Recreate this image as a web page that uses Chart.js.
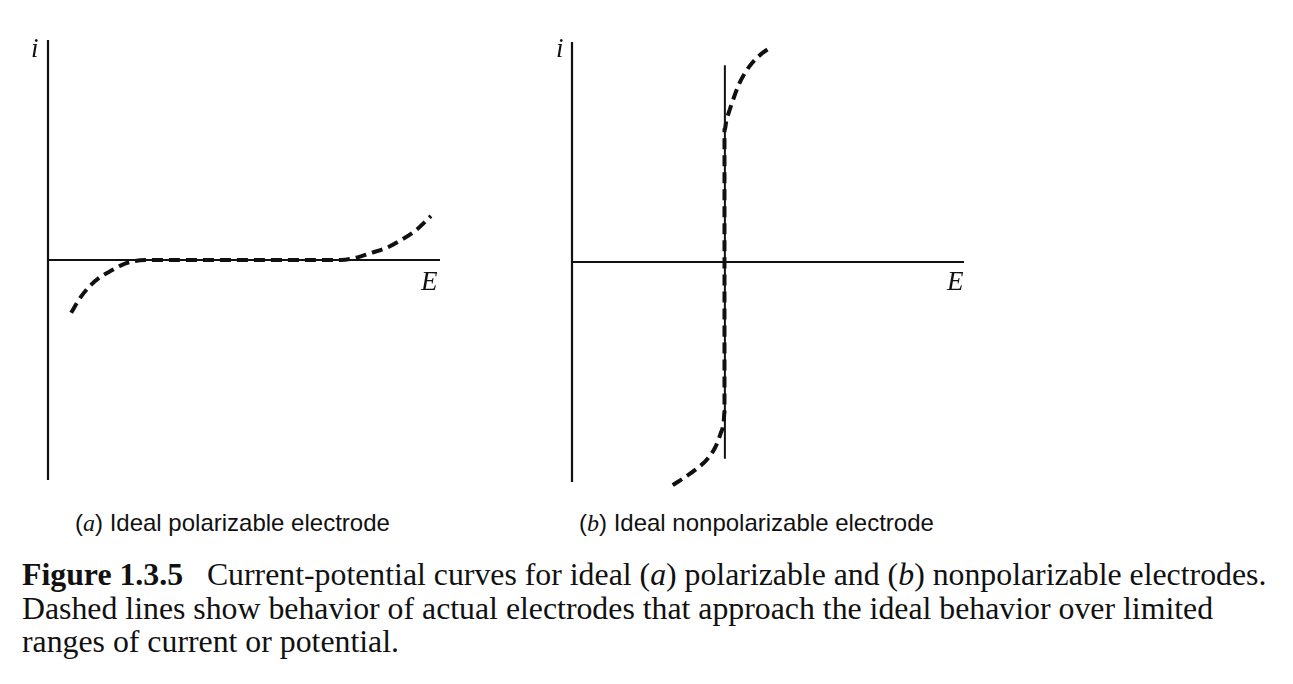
<!DOCTYPE html>
<html lang="en">
<head>
    <meta charset="UTF-8">
    <title>Figure 1.3.5</title>
    <script src="https://cdn.jsdelivr.net/npm/chart.js@4.4.0/dist/chart.umd.min.js"></script>
    <style>
        body {
            margin: 0;
            background: #fff;
            width: 1293px;
            height: 684px;
            position: relative;
            overflow: hidden;
            font-family: "Liberation Serif", "Times New Roman", serif;
            color: #111;
        }
        .panel {
            position: absolute;
            width: 412px;
            height: 460px;
        }
        .axis-label {
            position: absolute;
            font-style: italic;
            font-size: 27px;
            line-height: 1;
        }
        .sub {
            position: absolute;
            top: 510px;
            font-family: "Liberation Sans", Arial, sans-serif;
            font-size: 24px;
            line-height: 26px;
            white-space: nowrap;
        }
        .sub i {
            font-family: "Liberation Serif", serif;
        }
        .caption {
            position: absolute;
            left: 22px;
            top: 558px;
            font-size: 31.8px;
            line-height: 33.5px;
            white-space: nowrap;
        }
    </style>
</head>
<body>
    <div class="panel" style="left:38px; top:30px;"><canvas id="chartA"></canvas></div>
    <div class="panel" style="left:562px; top:32px;"><canvas id="chartB"></canvas></div>

    <span class="axis-label" style="left:31px; top:35px;">i</span>
    <span class="axis-label" style="left:421px; top:268px;">E</span>
    <span class="axis-label" style="left:556px; top:35px;">i</span>
    <span class="axis-label" style="left:947px; top:268px;">E</span>

    <div class="sub" style="left:75px;">(<i>a</i>) Ideal polarizable electrode</div>
    <div class="sub" style="left:579px;">(<i>b</i>) Ideal nonpolarizable electrode</div>

    <div class="caption">
        <b>Figure 1.3.5</b>&nbsp;&nbsp; Current-potential curves for ideal (<i>a</i>) polarizable and (<i>b</i>) nonpolarizable electrodes.<br>
        Dashed lines show behavior of actual electrodes that approach the ideal behavior over limited<br>
        ranges of current or potential.
    </div>

    <script>
        // axis frame (E from 0 to 10, i from -5 to 5)
        const axisV = [{x: 0, y: -5}, {x: 0, y: 5}];
        const axisH = [{x: 0, y: 0}, {x: 10, y: 0}];

        const realA_E = [0.59, 0.82, 1.07, 1.33, 1.64, 1.89, 2.17, 2.48, 5.0, 7.47, 7.85, 8.24, 8.62, 9.0, 9.39, 9.77];
        const realA_i = [-1.2, -0.86, -0.59, -0.39, -0.23, -0.11, -0.03, 0, 0, 0, 0.05, 0.16, 0.27, 0.45, 0.68, 1.0];

        // (b) ideal nonpolarizable: vertical line at E0
        const idealB = [{x: 3.9, y: -4.47}, {x: 3.9, y: 4.47}];
        // (b) real nonpolarizable electrode
        const realB_E = [2.57, 2.88, 3.18, 3.46, 3.66, 3.79, 3.87, 3.89, 3.89, 3.94, 4.02, 4.15, 4.27, 4.43, 4.61, 4.83, 5.09];
        const realB_i = [-5.07, -4.89, -4.70, -4.47, -4.20, -3.90, -3.63, -3.40, 2.99, 3.22, 3.45, 3.79, 4.06, 4.32, 4.54, 4.73, 4.89];

        const zip = (xs, ys) => xs.map((x, k) => ({x: x, y: ys[k]}));

        function solid(data, w) {
            return {
                data: data,
                borderColor: '#111',
                borderWidth: w,
                pointRadius: 0,
                tension: 0,
                clip: false
            };
        }

        function dashed(data) {
            return {
                data: data,
                borderColor: '#111',
                borderWidth: 4,
                borderDash: [11, 6],
                pointRadius: 0,
                cubicInterpolationMode: 'monotone',
                clip: false
            };
        }

        const baseOptions = {
            responsive: true,
            maintainAspectRatio: false,
            animation: false,
            layout: { padding: 10 },
            plugins: {
                legend: { display: false },
                tooltip: { enabled: false }
            },
            scales: {
                x: { type: 'linear', min: 0, max: 10, display: false },
                y: { type: 'linear', min: -5, max: 5, display: false }
            }
        };

        new Chart(document.getElementById('chartA'), {
            type: 'line',
            data: {
                datasets: [
                    solid(axisV, 2.2),
                    solid(axisH, 2.2),
                    dashed(zip(realA_E, realA_i))
                ]
            },
            options: baseOptions
        });

        new Chart(document.getElementById('chartB'), {
            type: 'line',
            data: {
                datasets: [
                    solid(axisV, 2.2),
                    solid(axisH, 2.2),
                    solid(idealB, 2),
                    dashed(zip(realB_E, realB_i))
                ]
            },
            options: baseOptions
        });
    </script>
</body>
</html>
